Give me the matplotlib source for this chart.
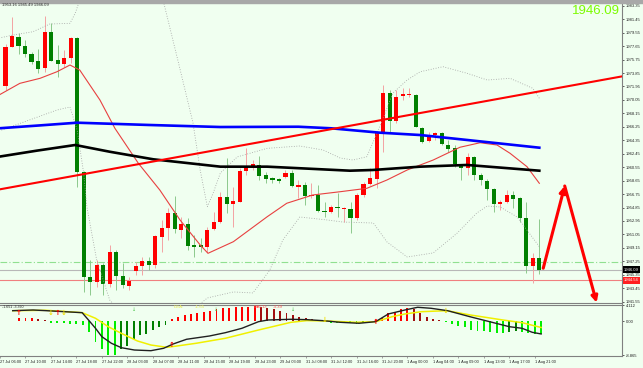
import matplotlib
matplotlib.use('Agg')
import matplotlib.pyplot as plt
import matplotlib.transforms as mtransforms
from matplotlib.patches import Rectangle
import numpy as np

plt.rcParams['font.family'] = ['Liberation Sans', 'DejaVu Sans']

# ---- hourly candles (bar 0 = 27 Jul 09:00) ----
opens = [1972.01, 1977.56, 1978.98, 1977.71, 1976.53, 1975.54, 1974.51, 1979.68, 1975.69, 1975.08,
         1975.93, 1978.84, 1959.91, 1945.08, 1944.29, 1946.73, 1944.00, 1948.61, 1945.22, 1943.81,
         1945.93, 1946.63, 1947.30, 1946.73, 1950.73, 1951.92, 1954.03, 1951.67, 1952.52, 1949.56,
         1949.56, 1949.32, 1951.77, 1952.85, 1956.38, 1955.35, 1955.67, 1960.01, 1960.53, 1960.85,
         1959.44, 1958.98, 1958.84, 1959.12, 1959.77, 1957.79, 1958.03, 1956.41, 1956.62, 1954.40,
         1954.22, 1954.97, 1954.64, 1954.64, 1953.33, 1956.62, 1958.17, 1958.88, 1965.33, 1971.07,
         1967.07, 1970.60, 1970.70, 1970.74, 1966.04, 1964.25, 1965.09, 1965.33, 1963.68, 1963.21,
         1960.71, 1960.39, 1961.94, 1959.44, 1958.64, 1957.42, 1955.30, 1955.67, 1956.62, 1956.15,
         1953.33, 1946.59, 1947.68]
highs = [1977.95, 1981.80, 1979.46, 1978.51, 1976.82, 1977.20, 1981.90, 1980.87, 1977.80, 1977.10,
         1978.93, 1978.93, 1960.01, 1947.44, 1947.44, 1947.01, 1949.56, 1948.85, 1947.06, 1945.08,
         1947.20, 1947.90, 1947.90, 1950.97, 1953.09, 1954.78, 1956.48, 1953.55, 1953.33, 1950.97,
         1950.54, 1952.14, 1954.26, 1957.08, 1961.84, 1957.79, 1960.43, 1963.21, 1961.56, 1962.13,
         1959.87, 1959.20, 1959.02, 1960.15, 1960.15, 1958.74, 1958.50, 1958.31, 1958.03, 1955.67,
         1955.21, 1956.94, 1954.97, 1955.67, 1956.90, 1958.45, 1960.39, 1965.38, 1972.16, 1971.45,
         1971.45, 1971.69, 1971.73, 1970.88, 1966.22, 1965.56, 1965.56, 1965.56, 1964.39, 1963.68,
         1961.00, 1962.51, 1962.13, 1959.73, 1958.88, 1957.61, 1955.91, 1957.33, 1957.23, 1956.38,
         1955.67, 1948.38, 1953.16]
lows = [1971.45, 1977.52, 1976.49, 1976.15, 1975.12, 1973.81, 1974.03, 1975.54, 1973.33, 1974.74,
        1975.26, 1957.79, 1942.96, 1942.49, 1943.67, 1942.49, 1943.67, 1943.20, 1943.44, 1943.20,
        1945.32, 1945.32, 1946.02, 1946.31, 1948.61, 1950.26, 1951.21, 1950.50, 1948.85, 1947.90,
        1948.57, 1948.61, 1951.67, 1952.66, 1954.03, 1952.14, 1955.63, 1959.44, 1960.15, 1958.74,
        1958.31, 1958.36, 1958.31, 1958.98, 1957.79, 1956.15, 1955.21, 1956.19, 1954.22, 1953.55,
        1954.07, 1953.55, 1952.85, 1951.21, 1953.09, 1956.34, 1958.03, 1957.56, 1962.73, 1965.56,
        1966.75, 1970.04, 1970.50, 1966.22, 1963.96, 1964.10, 1964.39, 1963.68, 1962.73, 1960.53,
        1958.74, 1959.44, 1958.74, 1958.03, 1955.91, 1954.26, 1954.50, 1955.49, 1954.74, 1952.85,
        1945.64, 1944.23, 1945.49]
closes = [1977.56, 1979.08, 1977.71, 1976.49, 1975.45, 1974.41, 1979.68, 1975.59, 1975.08, 1976.01,
          1978.84, 1959.91, 1945.08, 1944.37, 1946.73, 1944.00, 1948.61, 1945.22, 1943.91, 1944.51,
          1946.63, 1947.30, 1946.73, 1950.83, 1952.00, 1954.03, 1951.77, 1952.52, 1949.41, 1949.32,
          1949.32, 1951.67, 1952.85, 1956.38, 1955.35, 1955.81, 1960.01, 1960.53, 1960.95, 1959.35,
          1958.88, 1958.74, 1958.64, 1959.68, 1957.89, 1958.03, 1956.52, 1956.62, 1954.40, 1954.22,
          1954.88, 1954.74, 1954.74, 1953.33, 1956.62, 1958.17, 1958.98, 1965.33, 1971.07, 1967.07,
          1970.42, 1970.84, 1970.84, 1966.27, 1964.15, 1965.09, 1965.33, 1963.78, 1963.07, 1960.95,
          1960.39, 1961.94, 1959.44, 1958.74, 1957.42, 1955.30, 1955.63, 1956.62, 1956.01, 1953.33,
          1946.59, 1947.68, 1946.09]

# ---- indicator lines (bar index, price) ----
ma_blue_idx = [-1, 5, 11, 22, 33, 45, 50, 57.5, 63.7, 70.9, 82]
ma_blue_val = [1966.04, 1966.43, 1966.83, 1966.51, 1966.22, 1966.26, 1966.04, 1965.42, 1965.09, 1964.39, 1963.30]

ma_black_idx = [-1, 4.8, 10.7, 16, 22.7, 33, 40.2, 52.9, 56.4, 63.7, 70.9, 82]
ma_black_val = [1962.03, 1962.88, 1963.68, 1962.73, 1961.66, 1960.62, 1960.62, 1960.05, 1960.15, 1960.62, 1960.86, 1960.05]

ma_red_idx = [-1, 2.2, 5.3, 7.9, 9.9, 11.4, 14.5, 16.8, 20.4, 23.7, 26.8, 29.9, 31.1, 35.0, 40.2,
              43.2, 47.2, 51.4, 55.5, 58.6, 61.7, 65.7, 69.8, 72.9, 75.5, 77.5, 80.1, 82]
ma_red_val = [1970.74, 1972.39, 1973.10, 1974.03, 1974.98, 1974.27, 1970.04, 1966.04, 1961.10, 1957.32,
              1953.09, 1949.56, 1948.38, 1950.02, 1953.55, 1955.45, 1956.62, 1957.08, 1957.56, 1958.74,
              1960.15, 1961.56, 1963.36, 1964.00, 1963.68, 1962.51, 1960.62, 1958.27]

bb_up_idx = [-1, 1.2, 4.2, 6.8, 9.9, 10.7, 11.4, 17.6, 24.2, 26.5, 28.8, 29.9, 31.0, 31.9, 33.0, 35.6,
             40.2, 45.2, 48.8, 51.4, 53.4, 55.5, 57.5, 59.5, 61.7, 63.7, 67.2, 70.9, 74.0, 77.5, 81.0, 82]
bb_up_val = [1978.79, 1979.22, 1979.68, 1980.77, 1980.87, 1982.28, 1984.16, 1995.5, 1984.16, 1975.55,
             1966.79, 1960.15, 1954.97, 1956.90, 1959.73, 1962.00, 1963.21, 1963.54, 1962.97, 1961.84,
             1961.56, 1962.03, 1966.27, 1971.02, 1972.86, 1974.03, 1974.74, 1973.81, 1972.86, 1973.10,
             1971.69, 1970.28]

bb_lo_idx = [-1, 4.5, 7.9, 9.9, 11.0, 12.0, 12.5, 14.0, 16.0, 22.2, 31.0, 35.0, 38.0, 40.6, 42.6, 45.2,
             49.4, 51.8, 56.5, 58.6, 61.7, 65.7, 69.4, 72.4, 74.0, 76.0, 78.6, 81.0, 82]
bb_lo_val = [1965.66, 1967.49, 1968.62, 1969.05, 1965.80, 1959.73, 1954.92, 1947.44, 1941.79, 1935.43,
             1942.07, 1942.92, 1942.78, 1946.03, 1950.26, 1953.51, 1953.09, 1952.80, 1952.66, 1949.98,
             1947.86, 1948.43, 1951.25, 1954.08, 1955.06, 1954.92, 1953.51, 1950.55, 1949.32]

trend_idx = [-2, 96]
trend_val = [1957.23, 1973.59]

forecast_idx = [82.6, 85.9, 90.8]
forecast_val = [1946.27, 1957.89, 1941.41]

bid_price = 1946.09
red_level = 1944.54
green_level = 1947.10

ytick_vals = [1983.35, 1981.45, 1979.55, 1977.65, 1975.75, 1973.85, 1971.95, 1970.05, 1968.15, 1966.25,
              1964.35, 1962.45, 1960.55, 1958.65, 1956.75, 1954.85, 1952.95, 1951.05, 1949.15, 1947.25,
              1945.35, 1943.45, 1941.55]

xlabel_idx = [-3, 1, 5, 9, 13, 17, 21, 25, 29, 33, 37, 41, 45, 49, 53, 57, 61, 65, 69, 73, 77, 81]
xlabel_txt = ['27 Jul 06:00', '27 Jul 10:00', '27 Jul 14:00', '27 Jul 18:00', '27 Jul 22:00',
              '28 Jul 03:00', '28 Jul 07:00', '28 Jul 11:00', '28 Jul 15:00', '28 Jul 19:00',
              '28 Jul 23:00', '29 Jul 03:00', '31 Jul 08:00', '31 Jul 12:00', '31 Jul 16:00',
              '31 Jul 20:00', '1 Aug 00:00', '1 Aug 04:00', '1 Aug 09:00', '1 Aug 13:00',
              '1 Aug 17:00', '1 Aug 21:00']

# ---- MACD panel ----
macd_hist = [0.71, 0.71, 0.71, 0.45, 0.27, -0.36, -0.36, -0.45, -0.62, -0.80,
             -1.07, -2.85, -5.52, -7.30, -8.80, -8.86, -7.30, -6.40, -4.60, -3.70,
             -3.30, -2.40, -1.50, -1.07, 0.45, 1.16, 1.60, 1.87, 2.20, 2.50,
             2.76, 3.10, 3.40, 3.56, 3.65, 3.74, 3.83, 3.90, 3.83, 3.47,
             3.10, 2.60, 2.05, 1.70, 1.16, 0.71, 0.45, 0.27, 0.18, -0.36,
             -0.45, -0.53, -0.53, -0.62, -0.45, 0.10, 0.30, 0.90, 2.05, 2.50,
             3.10, 3.40, 3.10, 2.05, 1.16, 0.45, 0.27, -0.27, -0.70, -1.30,
             -1.50, -2.20, -2.50, -2.70, -2.85, -3.10, -3.10, -2.80, -2.70, -2.90,
             -3.10, -3.25, -3.39]

diff_idx = [-1, 2.2, 4.3, 9.9, 10.9, 12.0, 13.0, 14.5, 16.05, 18.1, 20.7, 22.7, 24.2, 26.3, 29.9,
            32.4, 35.0, 37.6, 39.1, 42.7, 45.2, 47.8, 50.4, 53.4, 56.0, 58.0, 60.6, 62.6, 64.7,
            67.3, 70.8, 73.9, 77.0, 79.0, 80.6, 82]
diff_val = [2.75, 2.93, 2.75, 2.23, 0.31, -1.86, -4.06, -5.79, -6.94, -7.55, -7.73, -7.10, -5.97,
            -4.74, -3.88, -3.01, -1.86, -0.13, 0.31, 0.50, 0.40, 0.13, -0.29, -0.55, -0.13, 1.89,
            2.93, 3.64, 3.38, 2.75, 1.18, -0.13, -1.44, -1.86, -2.91, -3.35]

dea_idx = [-1, 4.2, 9.9, 12.0, 14.0, 16.05, 18.6, 20.7, 23.2, 24.8, 27.8, 32.4, 37.6, 42.7, 45.2,
           48.3, 52.9, 56.0, 58.6, 60.6, 63.2, 67.2, 70.9, 76.0, 79.0, 82]
dea_val = [2.75, 2.85, 2.23, 0.76, -1.44, -3.18, -5.19, -6.24, -6.85, -6.50, -5.79, -4.48, -2.31,
           -0.30, 0.15, 0.05, -0.30, -0.13, 1.18, 1.89, 2.49, 2.75, 1.62, 0.31, -0.39, -1.65]

cross_up_idx = [0, 6, 24, 56]
cross_up_val = [2.2, 2.2, -6.2, -0.13]
cross_dn_idx = [5, 7, 48, 67]
cross_dn_val = [2.2, 2.2, 0.31, 2.6]
signal_idx = [18, 31, 43]
signal_val = [3.1, 3.1, 3.1]

BG = '#f0fff0'
W, H = 643, 368

fig = plt.figure(figsize=(W / 100, H / 100), dpi=100, facecolor=BG)
ax = fig.add_axes([0, 1 - 303 / H, 622 / W, 300 / H], facecolor=BG)
ax2 = fig.add_axes([0, 1 - 356 / H, 622 / W, 51.5 / H], facecolor=BG)

idx = np.arange(len(opens))
o = np.array(opens); c = np.array(closes)
up = c >= o
body_col = np.where(up, '#ff0000', '#008000')
wick_col = np.where(up, '#f4a3a3', '#8cc98c')
bottoms = np.minimum(o, c)
heights = np.maximum(np.abs(c - o), 0.09)

ax.vlines(idx, lows, highs, colors=wick_col, lw=0.7, zorder=2)
ax.bar(idx, heights, bottom=bottoms, width=0.64, color=body_col, linewidth=0, zorder=3)

# horizontal levels
ax.axhline(green_level, color='#90e090', lw=0.8, ls=(0, (6, 2, 1, 2)), zorder=1)
ax.axhline(bid_price, color='#b8b8b8', lw=0.8, zorder=1)
ax.axhline(red_level, color='#f08080', lw=0.8, zorder=1)

# bands and averages
ax.plot(bb_up_idx, bb_up_val, color='#a0a0a0', lw=0.6, ls=(0, (1, 2)), zorder=4)
ax.plot(bb_lo_idx, bb_lo_val, color='#a0a0a0', lw=0.6, ls=(0, (1, 2)), zorder=4)
ax.plot(ma_red_idx, ma_red_val, color='#e84040', lw=0.8, zorder=5)
ax.plot(ma_blue_idx, ma_blue_val, color='#0000ff', lw=1.9, zorder=5)
ax.plot(ma_black_idx, ma_black_val, color='#000000', lw=1.9, zorder=5)
ax.plot(trend_idx, trend_val, color='#ff0000', lw=1.5, zorder=6)

for k in range(len(forecast_idx) - 1):
    ax.annotate('', xy=(forecast_idx[k + 1], forecast_val[k + 1]),
                xytext=(forecast_idx[k], forecast_val[k]),
                arrowprops=dict(arrowstyle='-|>', color='#ff0000', lw=2.2,
                                mutation_scale=9, shrinkA=0, shrinkB=0), zorder=7)

xmin, xmax = -0.85, 94.7
ax.set_xlim(xmin, xmax)
ax.set_ylim(1941.36, 1983.74)
ax.set_xticks([])
ax.yaxis.tick_right()
ax.set_yticks(ytick_vals)
ax.set_yticklabels([f'{v:.2f}' for v in ytick_vals])
ax.tick_params(axis='y', labelsize=3, length=1.5, width=0.5, pad=1, colors='#222222')
for s in ['left', 'top']:
    ax.spines[s].set_visible(False)
for s in ['right', 'bottom']:
    ax.spines[s].set_color('#808080')
    ax.spines[s].set_linewidth(0.8)

# price tags on the right scale
tr = mtransforms.blended_transform_factory(ax.transAxes, ax.transData)
ax.text(1.003, bid_price, f'{bid_price:.2f}', transform=tr, fontsize=3, color='white',
        va='center', ha='left', clip_on=False, zorder=8,
        bbox=dict(boxstyle='square,pad=0.25', fc='black', ec='black', lw=0))
ax.text(1.003, red_level, f'{red_level:.2f}', transform=tr, fontsize=3, color='white',
        va='center', ha='left', clip_on=False, zorder=8,
        bbox=dict(boxstyle='square,pad=0.25', fc='#ff2020', ec='#ff2020', lw=0))

# MACD histogram
hist = np.array(macd_hist)
prev = np.concatenate([[hist[0]], hist[:-1]])
hcol = []
for h, p in zip(hist, prev):
    if h >= 0:
        hcol.append('#ff0000' if h >= p else '#a01010')
    else:
        hcol.append('#00ee00' if h <= p else '#008000')
ax2.bar(idx, hist, width=0.3, color=hcol, linewidth=0, zorder=2)
ax2.plot(dea_idx, dea_val, color='#f0f000', lw=1.1, zorder=3)
ax2.plot(diff_idx, diff_val, color='#202020', lw=1.0, zorder=4)
for i, v in zip(cross_up_idx, cross_up_val):
    ax2.text(i, v, '\u2191', color='#ff0000', fontsize=5, fontweight='bold',
             ha='center', va='center', family=['DejaVu Sans'], zorder=5)
for i, v in zip(cross_dn_idx, cross_dn_val):
    ax2.text(i, v, '\u2193', color='#f0e000', fontsize=5, fontweight='bold',
             ha='center', va='center', family=['DejaVu Sans'], zorder=5)
for i, v in zip(signal_idx, signal_val):
    ax2.text(i, v, '\u2193', color='#40c040', fontsize=3.5,
             ha='center', va='center', family=['DejaVu Sans'], zorder=5)

ax2.text(0.003, 0.99, f'{dea_val[-1] - 0.001:.3f} {macd_hist[-1]:.3f}', transform=ax2.transAxes,
         fontsize=2.6, color='#222222', ha='left', va='top')
ax2.text(24.2, 3.7, 'DEA:', fontsize=3.2, color='#e8e850', ha='left', va='center')
ax2.text(27.6, 3.7, f'{dea_val[-1]:.2f}', fontsize=3.2, color='#e8e850', ha='left', va='center')
ax2.text(36.9, 3.7, 'MACD:', fontsize=3.2, color='#ff5050', ha='left', va='center')
ax2.text(39.9, 3.7, f'{macd_hist[-1]:.2f}', fontsize=3.2, color='#ff5050', ha='left', va='center')

ax2.set_xlim(xmin, xmax)
ax2.set_ylim(-9.12, 4.37)
ax2.yaxis.tick_right()
ax2.set_yticks([4.112, 0.0, -8.865])
ax2.set_yticklabels(['4.112', '0.00', '-8.865'])
ax2.tick_params(axis='y', labelsize=3, length=1.5, width=0.5, pad=1, colors='#222222')
ax2.set_xticks(xlabel_idx)
ax2.tick_params(axis='x', length=1.5, width=0.5, colors='#808080', labelbottom=False)
ax2.spines['left'].set_visible(False)
for s in ['right', 'bottom', 'top']:
    ax2.spines[s].set_color('#808080')
    ax2.spines[s].set_linewidth(0.8)

trx = mtransforms.blended_transform_factory(ax2.transData, ax2.transAxes)
for i, lab in zip(xlabel_idx, xlabel_txt):
    ax2.text(i, -0.07, lab, transform=trx, fontsize=2.8, color='#222222',
             ha='left', va='top', clip_on=False)

# header texts and window border
fig.patches.append(Rectangle((0, 1 - 2.5 / H), 1, 2.5 / H, transform=fig.transFigure,
                             color='#a8a8a8', zorder=0))
fig.text(2 / W, 1 - 5.5 / H, f'{highs[-1]:.2f} {lows[-1]:.2f} {closes[-1]:.2f}',
         fontsize=3, color='#222222', ha='left', va='center')
fig.text(620 / W, 1 - 4.5 / H, f'{bid_price:.2f}', fontsize=9.5, color='#7cfc00',
         ha='right', va='top')

fig.savefig('out.png', dpi=100, facecolor=BG)
